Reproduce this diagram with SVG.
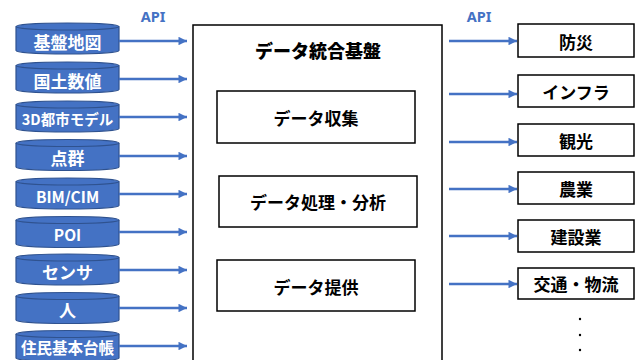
<svg xmlns="http://www.w3.org/2000/svg" width="639" height="360" viewBox="0 0 639 360">
<defs>
<style>
.cyl path,.cyl ellipse{fill:#4472C4;stroke:#2F528F;stroke-width:1.2}
.cyl text{fill:#fff;font-family:"Noto Sans CJK JP","Noto Sans",sans-serif;font-weight:700;font-size:17px;text-anchor:middle;dominant-baseline:central}
.api{fill:#4472C4;font-family:"Noto Sans","Liberation Sans",sans-serif;font-weight:700;font-size:14.5px;text-anchor:middle}
.box rect{fill:#fff;stroke:#000;stroke-width:1.5}
.box text{fill:#000;font-family:"Noto Sans CJK JP",sans-serif;font-weight:600;font-size:17px;text-anchor:middle;dominant-baseline:central}
.con line{stroke:#4472C4;stroke-width:2.5;marker-end:url(#ah)}
.dot{fill:#000}
</style>
<marker id="ah" viewBox="0 0 10 10" refX="10" refY="5" markerWidth="4" markerHeight="3.4" orient="auto" markerUnits="strokeWidth"><path d="M0,0L10,5L0,10z" fill="#4472C4"/></marker>
</defs>
<text class="api" x="153" y="22">API</text>
<text class="api" x="479" y="22">API</text>

<g id="platform" class="box">
<rect x="193" y="25" width="249" height="345"/>
<text x="318" y="50" style="font-weight:900;font-size:18px">データ統合基盤</text>
</g>
<g id="collect" class="box"><rect x="217" y="91" width="198" height="52"/><text x="316" y="117">データ収集</text></g>
<g id="process" class="box"><rect x="219" y="176" width="198" height="51"/><text x="318" y="201">データ処理・分析</text></g>
<g id="provide" class="box"><rect x="217" y="260" width="198" height="51"/><text x="316" y="286">データ提供</text></g>

<g id="src1" class="cyl" transform="translate(0,23)"><path d="M16,3.5v24a51.5,3.5 0 0 0 103,0v-24"/><ellipse cx="67.5" cy="3.5" rx="51.5" ry="3.5"/><text x="67.5" y="18.5">基盤地図</text></g>
<g id="src2" class="cyl" transform="translate(0,62)"><path d="M16,3.5v24a51.5,3.5 0 0 0 103,0v-24"/><ellipse cx="67.5" cy="3.5" rx="51.5" ry="3.5"/><text x="67.5" y="18">国土数値</text></g>
<g id="src3" class="cyl" transform="translate(0,101)"><path d="M16,3.5v24a51.5,3.5 0 0 0 103,0v-24"/><ellipse cx="67.5" cy="3.5" rx="51.5" ry="3.5"/><text x="67.5" y="17" style="font-size:14.5px">3D都市モデル</text></g>
<g id="src4" class="cyl" transform="translate(0,139.5)"><path d="M16,3.5v24a51.5,3.5 0 0 0 103,0v-24"/><ellipse cx="67.5" cy="3.5" rx="51.5" ry="3.5"/><text x="67.5" y="18">点群</text></g>
<g id="src5" class="cyl" transform="translate(0,178)"><path d="M16,3.5v24a51.5,3.5 0 0 0 103,0v-24"/><ellipse cx="67.5" cy="3.5" rx="51.5" ry="3.5"/><text x="67.5" y="17.5" style="font-size:15.5px">BIM/CIM</text></g>
<g id="src6" class="cyl" transform="translate(0,216.5)"><path d="M16,3.5v24a51.5,3.5 0 0 0 103,0v-24"/><ellipse cx="67.5" cy="3.5" rx="51.5" ry="3.5"/><text x="67.5" y="17.5" style="font-size:15.5px">POI</text></g>
<g id="src7" class="cyl" transform="translate(0,254)"><path d="M16,3.5v24a51.5,3.5 0 0 0 103,0v-24"/><ellipse cx="67.5" cy="3.5" rx="51.5" ry="3.5"/><text x="67.5" y="17">センサ</text></g>
<g id="src8" class="cyl" transform="translate(0,292.5)"><path d="M16,3.5v24a51.5,3.5 0 0 0 103,0v-24"/><ellipse cx="67.5" cy="3.5" rx="51.5" ry="3.5"/><text x="67.5" y="17">人</text></g>
<g id="src9" class="cyl" transform="translate(0,330.5)"><path d="M16,3.5v24a51.5,3.5 0 0 0 103,0v-24"/><ellipse cx="67.5" cy="3.5" rx="51.5" ry="3.5"/><text x="67.5" y="16.5" style="font-size:15.5px">住民基本台帳</text></g>

<g id="dst1" class="box"><rect x="518" y="24" width="116" height="33"/><text x="576" y="41">防災</text></g>
<g id="dst2" class="box"><rect x="518" y="75" width="116" height="32"/><text x="576" y="91">インフラ</text></g>
<g id="dst3" class="box"><rect x="518" y="124" width="116" height="32"/><text x="576" y="140">観光</text></g>
<g id="dst4" class="box"><rect x="518" y="172" width="116" height="32"/><text x="576" y="188">農業</text></g>
<g id="dst5" class="box"><rect x="518" y="220" width="116" height="32"/><text x="576" y="236">建設業</text></g>
<g id="dst6" class="box"><rect x="518" y="268" width="116" height="31"/><text x="576" y="283.5">交通・物流</text></g>

<circle class="dot" cx="580" cy="319" r="1.2"/>
<circle class="dot" cx="580" cy="335" r="1.2"/>
<circle class="dot" cx="580" cy="350" r="1.2"/>

<g id="connectors" class="con">
<line x1="119" y1="41" x2="187" y2="41"/>
<line x1="119" y1="79" x2="187" y2="79"/>
<line x1="119" y1="117" x2="187" y2="117"/>
<line x1="119" y1="156" x2="187" y2="156"/>
<line x1="119" y1="194" x2="187" y2="194"/>
<line x1="119" y1="232" x2="187" y2="232"/>
<line x1="119" y1="270" x2="187" y2="270"/>
<line x1="119" y1="308" x2="187" y2="308"/>
<line x1="119" y1="346" x2="187" y2="346"/>
<line x1="449" y1="41" x2="517" y2="41"/>
<line x1="449" y1="94" x2="517" y2="94"/>
<line x1="449" y1="142" x2="517" y2="142"/>
<line x1="449" y1="189" x2="517" y2="189"/>
<line x1="449" y1="236" x2="517" y2="236"/>
<line x1="449" y1="284" x2="517" y2="284"/>
</g>
</svg>
